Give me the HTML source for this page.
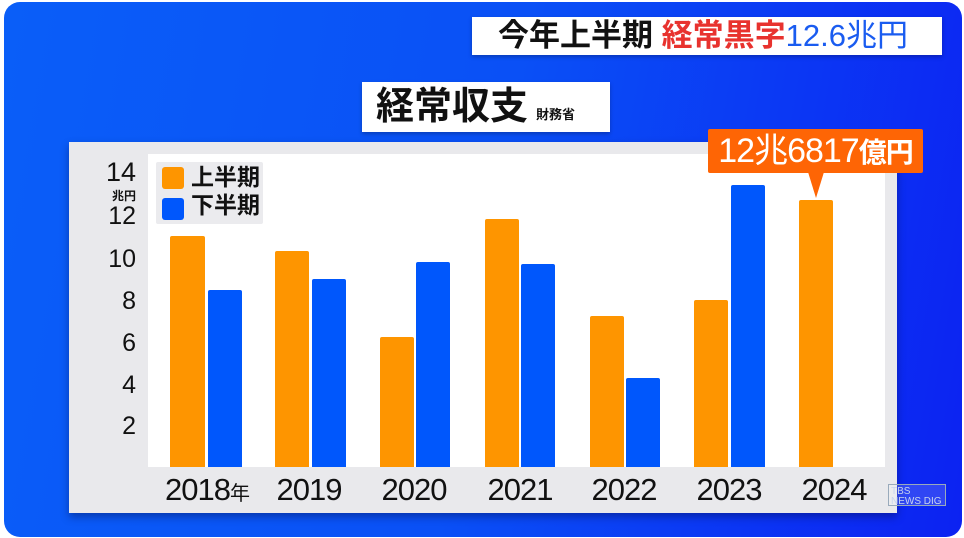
<!DOCTYPE html>
<html><head><meta charset="utf-8"><style>
*{margin:0;padding:0;box-sizing:border-box}
body{width:964px;height:538px;background:#fff;position:relative;overflow:hidden;font-family:"Liberation Sans","Noto Sans CJK JP",sans-serif}
.bg{position:absolute;left:4px;top:2px;width:958px;height:535px;border-radius:16px;background:linear-gradient(100deg,#0a5ef8 0%,#0a50f6 50%,#0c22f2 100%)}
.box{position:absolute;background:#fff;box-shadow:0 2px 4px rgba(0,0,0,.25);font-weight:bold}
.panel{position:absolute;left:69px;top:142px;width:828px;height:371px;background:#e9e9ec;box-shadow:0 4px 8px rgba(0,0,40,.35)}
.plot{position:absolute;left:148px;top:154px;width:737px;height:313px;background:#fff}
.bar{position:absolute;border-radius:2px 2px 0 0}
.o{background:#fe9500}.b{background:#0057fc}
.yl{position:absolute;width:40px;text-align:right;font-size:25px;color:#111;left:96px}
.xl{position:absolute;top:472px;font-size:31px;color:#111;width:110px;text-align:center;letter-spacing:-1px}
</style></head><body>
<div class="bg"></div>
<div class="box" style="left:472px;top:17px;width:470px;height:38px;font-size:31px;line-height:38px;padding-left:26px;white-space:nowrap"><span style="color:#111">今年上半期 </span><span style="color:#e8322e">経常黒字</span><span style="color:#1a5cf0;font-weight:normal">12.6兆円</span></div>
<div class="box" style="left:362px;top:82px;width:248px;height:50px;line-height:50px;padding-left:14px;white-space:nowrap"><span style="font-size:38px;color:#111">経常収支</span><span style="font-size:13px;color:#111;margin-left:8px">財務省</span></div>
<div class="panel"></div>
<div class="plot"></div>
<div style="position:absolute;left:156px;top:162px;width:107px;height:62px;background:#ebebee;border-radius:2px"></div>
<div style="position:absolute;left:162px;top:167px;width:22px;height:22px;background:#fe9500;border-radius:3px"></div>
<div style="position:absolute;left:162px;top:198px;width:22px;height:22px;background:#0057fc;border-radius:3px"></div>
<div style="position:absolute;left:191px;top:163px;font-size:23px;font-weight:bold;color:#111;line-height:28px">上半期<br>下半期</div>
<div class="yl" style="top:157px;font-size:27px;">14</div>
<div class="yl" style="top:187px;font-size:12px;font-weight:bold">兆円</div>
<div class="yl" style="top:202px">12</div>
<div class="yl" style="top:245px">10</div>
<div class="yl" style="top:287px">8</div>
<div class="yl" style="top:329px">6</div>
<div class="yl" style="top:371px">4</div>
<div class="yl" style="top:412px">2</div>
<div class="bar o" style="left:170px;top:236px;width:35px;height:231px"></div>
<div class="bar b" style="left:208px;top:290px;width:34px;height:177px"></div>
<div class="bar o" style="left:275px;top:251px;width:34px;height:216px"></div>
<div class="bar b" style="left:312px;top:279px;width:34px;height:188px"></div>
<div class="bar o" style="left:380px;top:337px;width:34px;height:130px"></div>
<div class="bar b" style="left:416px;top:262px;width:34px;height:205px"></div>
<div class="bar o" style="left:485px;top:219px;width:34px;height:248px"></div>
<div class="bar b" style="left:521px;top:264px;width:34px;height:203px"></div>
<div class="bar o" style="left:590px;top:316px;width:34px;height:151px"></div>
<div class="bar b" style="left:626px;top:378px;width:34px;height:89px"></div>
<div class="bar o" style="left:694px;top:300px;width:34px;height:167px"></div>
<div class="bar b" style="left:731px;top:185px;width:34px;height:282px"></div>
<div class="bar o" style="left:799px;top:200px;width:34px;height:267px"></div>
<div class="xl" style="left:152px">2018<span style="font-size:20px">年</span></div>
<div class="xl" style="left:254px">2019</div>
<div class="xl" style="left:359px">2020</div>
<div class="xl" style="left:465px">2021</div>
<div class="xl" style="left:569px">2022</div>
<div class="xl" style="left:674px">2023</div>
<div class="xl" style="left:779px">2024</div>
<div style="position:absolute;left:708px;top:129px;width:215px;height:44px;background:#fe6505;border-radius:2px;color:#fff;font-size:34px;line-height:44px;text-align:center;white-space:nowrap;letter-spacing:-1px">12兆6817<span style="font-size:28px;font-weight:bold">億円</span></div>
<div style="position:absolute;left:808px;top:172px;width:0;height:0;border-left:8px solid transparent;border-right:8px solid transparent;border-top:26px solid #fe6505"></div>
<div style="position:absolute;left:888px;top:484px;width:58px;height:22px;border:1px solid #9ab;color:#c8d4ee;font-size:10px;line-height:10px;padding:2px;background:rgba(255,255,255,.15)">TBS<br>NEWS DIG</div>
</body></html>
